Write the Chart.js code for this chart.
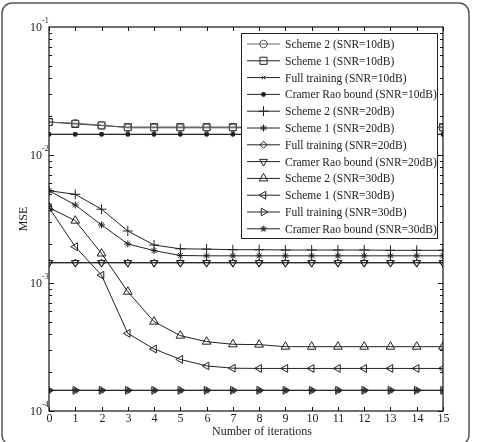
<!DOCTYPE html>
<html lang="en">
<head>
    <meta charset="UTF-8">
    <title>MSE vs iterations</title>
    <script src="https://cdn.jsdelivr.net/npm/chart.js"></script>
    <style>
        body {
            margin: 0;
            background-color: white;
        }
        #wrap {
            position: relative;
            width: 482px;
            height: 442px;
        }
    </style>
</head>
<body>
    <div id="wrap">
        <canvas id="mseChart" width="482" height="442"></canvas>
    </div>

    <script>
        // iterations on the x axis
        const iterations = [0, 1, 2, 3, 4, 5, 6, 7, 8, 9, 10, 11, 12, 13, 14, 15];

        // SNR = 10 dB
        const scheme2_10 = [0.0181, 0.0177, 0.0171, 0.0163, 0.0163, 0.0163, 0.0163, 0.0163, 0.0163, 0.0163, 0.0163, 0.0163, 0.0163, 0.0163, 0.0163, 0.0163];
        const scheme1_10 = [0.0181, 0.0175, 0.0170, 0.0165, 0.0165, 0.0165, 0.0165, 0.0165, 0.0165, 0.0165, 0.0165, 0.0165, 0.0165, 0.0165, 0.0165, 0.0165];
        const full_10    = [0.0145, 0.0145, 0.0145, 0.0145, 0.0145, 0.0145, 0.0145, 0.0145, 0.0145, 0.0145, 0.0145, 0.0145, 0.0145, 0.0145, 0.0145, 0.0145];
        const crb_10     = [0.0145, 0.0145, 0.0145, 0.0145, 0.0145, 0.0145, 0.0145, 0.0145, 0.0145, 0.0145, 0.0145, 0.0145, 0.0145, 0.0145, 0.0145, 0.0145];

        // SNR = 20 dB
        const scheme2_20 = [0.00526, 0.00493, 0.00377, 0.00255, 0.00198, 0.00185, 0.00184, 0.00182, 0.00182, 0.00181, 0.00181, 0.00181, 0.00181, 0.00180, 0.00180, 0.00180];
        const scheme1_20 = [0.00526, 0.00407, 0.00284, 0.00202, 0.00179, 0.00164, 0.00163, 0.00163, 0.00163, 0.00163, 0.00163, 0.00163, 0.00163, 0.00163, 0.00163, 0.00163];
        const full_20    = [0.00144, 0.00144, 0.00144, 0.00144, 0.00144, 0.00144, 0.00144, 0.00144, 0.00144, 0.00144, 0.00144, 0.00144, 0.00144, 0.00144, 0.00144, 0.00144];
        const crb_20     = [0.00144, 0.00144, 0.00144, 0.00144, 0.00144, 0.00144, 0.00144, 0.00144, 0.00144, 0.00144, 0.00144, 0.00144, 0.00144, 0.00144, 0.00144, 0.00144];

        // SNR = 30 dB
        const scheme2_30 = [0.00388, 0.00307, 0.00170, 0.000855, 0.000499, 0.000388, 0.000348, 0.000332, 0.000330, 0.000318, 0.000318, 0.000318, 0.000318, 0.000318, 0.000318, 0.000318];
        const scheme1_30 = [0.00388, 0.00192, 0.00115, 0.000404, 0.000305, 0.000253, 0.000225, 0.000216, 0.000215, 0.000215, 0.000215, 0.000215, 0.000215, 0.000215, 0.000215, 0.000215];
        const full_30    = [0.000145, 0.000145, 0.000145, 0.000145, 0.000145, 0.000145, 0.000145, 0.000145, 0.000145, 0.000145, 0.000145, 0.000145, 0.000145, 0.000145, 0.000145, 0.000145];
        const crb_30     = [0.000145, 0.000145, 0.000145, 0.000145, 0.000145, 0.000145, 0.000145, 0.000145, 0.000145, 0.000145, 0.000145, 0.000145, 0.000145, 0.000145, 0.000145, 0.000145];

        // axis ticks
        const xTicks = [0, 1, 2, 3, 4, 5, 6, 7, 8, 9, 10, 11, 12, 13, 14, 15];
        const yDecades = [-1, -2, -3, -4];

        const FONT = '"Liberation Serif", "DejaVu Serif", serif';
        const INK = '#222';

        // small filled pentagram for the 30dB Cramer Rao bound
        function makeStar(r) {
            const c = document.createElement('canvas');
            c.width = c.height = r * 2 + 2;
            const g = c.getContext('2d');
            g.fillStyle = '#333';
            g.beginPath();
            for (let i = 0; i < 10; i++) {
                const rr = i % 2 === 0 ? r : r * 0.45;
                const a = -Math.PI / 2 + i * Math.PI / 5;
                const px = r + 1 + rr * Math.cos(a);
                const py = r + 1 + rr * Math.sin(a);
                if (i === 0) g.moveTo(px, py); else g.lineTo(px, py);
            }
            g.closePath();
            g.fill();
            return c;
        }
        const starImg = makeStar(4);

        function series(label, values, style, extra) {
            return Object.assign({
                label: label,
                data: iterations.map((x, i) => ({ x: x, y: values[i] })),
                borderColor: INK,
                borderWidth: 1,
                pointStyle: style,
                pointRadius: 4,
                pointBorderWidth: 1,
                pointBorderColor: INK,
                pointBackgroundColor: 'rgba(0,0,0,0)',
                pointRotation: 0,
                fill: false,
                tension: 0
            }, extra || {});
        }

        const datasets = [
            series('Scheme 2 (SNR=10dB)', scheme2_10, 'circle', { borderColor: '#666', pointBorderColor: '#555', pointRadius: 3.8 }),
            series('Scheme 1 (SNR=10dB)', scheme1_10, 'rect', { pointRadius: 5 }),
            series('Full training (SNR=10dB)', full_10, 'crossRot', { pointRadius: 2.5 }),
            series('Cramer Rao bound (SNR=10dB)', crb_10, 'circle', { pointRadius: 2, pointBackgroundColor: INK }),
            series('Scheme 2 (SNR=20dB)', scheme2_20, 'cross', { pointRadius: 5 }),
            series('Scheme 1 (SNR=20dB)', scheme1_20, 'star', { pointRadius: 3.5 }),
            series('Full training (SNR=20dB)', full_20, 'rectRot', { pointRadius: 3.5 }),
            series('Cramer Rao bound (SNR=20dB)', crb_20, 'triangle', { pointRadius: 4.5, pointRotation: 180 }),
            series('Scheme 2 (SNR=30dB)', scheme2_30, 'triangle', { pointRadius: 5 }),
            series('Scheme 1 (SNR=30dB)', scheme1_30, 'triangle', { pointRadius: 4.5, pointRotation: 270 }),
            series('Full training (SNR=30dB)', full_30, 'triangle', { pointRadius: 4.5, pointRotation: 90 }),
            series('Cramer Rao bound (SNR=30dB)', crb_30, starImg, {})
        ];

        // axes box, inward ticks, tick labels, titles, legend, outer frame
        const figurePlugin = {
            id: 'figure',
            afterDraw(chart) {
                const ctx = chart.ctx;
                const a = chart.chartArea;
                const xs = chart.scales.x;
                const ys = chart.scales.y;
                ctx.save();

                // legend box (opaque, covers lines)
                const lx = 241, ly = 33, lw = 196, lh = 205, rowH = 16.8;
                ctx.fillStyle = 'white';
                ctx.fillRect(lx, ly, lw, lh);
                ctx.strokeStyle = INK;
                ctx.lineWidth = 1;
                ctx.strokeRect(lx + 0.5, ly + 0.5, lw, lh);
                ctx.font = '11.5px ' + FONT;
                ctx.textAlign = 'left';
                ctx.textBaseline = 'middle';
                datasets.forEach((ds, i) => {
                    const cy = ly + 11 + i * rowH;
                    ctx.strokeStyle = ds.borderColor;
                    ctx.lineWidth = 1;
                    ctx.beginPath();
                    ctx.moveTo(lx + 6, cy);
                    ctx.lineTo(lx + 39, cy);
                    ctx.stroke();
                    ctx.strokeStyle = ds.pointBorderColor;
                    ctx.fillStyle = ds.pointBackgroundColor;
                    Chart.helpers.drawPoint(ctx, {
                        pointStyle: ds.pointStyle,
                        rotation: ds.pointRotation,
                        radius: ds.pointRadius,
                        borderWidth: 1
                    }, lx + 22.5, cy);
                    ctx.fillStyle = INK;
                    ctx.fillText(ds.label, lx + 44, cy + 1);
                });

                // axes box
                ctx.strokeStyle = '#111';
                ctx.lineWidth = 1.2;
                ctx.strokeRect(a.left, a.top, a.right - a.left, a.bottom - a.top);

                // x ticks
                ctx.lineWidth = 1;
                ctx.font = '12px ' + FONT;
                ctx.fillStyle = INK;
                ctx.textAlign = 'center';
                ctx.textBaseline = 'top';
                xTicks.forEach(t => {
                    const px = Math.round(xs.getPixelForValue(t)) + 0.5;
                    ctx.beginPath();
                    ctx.moveTo(px, a.bottom);
                    ctx.lineTo(px, a.bottom - 4);
                    ctx.moveTo(px, a.top);
                    ctx.lineTo(px, a.top + 4);
                    ctx.stroke();
                    ctx.fillText(String(t), px, a.bottom + 2);
                });

                // y ticks: decades and minor log ticks
                yDecades.forEach(e => {
                    for (let m = 1; m <= 9; m++) {
                        const v = m * Math.pow(10, e - 1);
                        if (v < ys.min * 0.999 || v > ys.max * 1.001) continue;
                        const py = Math.round(ys.getPixelForValue(v)) + 0.5;
                        const len = m === 1 ? 5 : 3;
                        ctx.beginPath();
                        ctx.moveTo(a.left, py);
                        ctx.lineTo(a.left + len, py);
                        ctx.moveTo(a.right, py);
                        ctx.lineTo(a.right - len, py);
                        ctx.stroke();
                    }
                });
                ctx.textBaseline = 'middle';
                yDecades.forEach(e => {
                    const py = ys.getPixelForValue(Math.pow(10, e));
                    ctx.font = '12px ' + FONT;
                    ctx.textAlign = 'right';
                    ctx.fillText('10', a.left - 7, py + 1);
                    ctx.font = '8px ' + FONT;
                    ctx.textAlign = 'left';
                    ctx.fillText(String(e), a.left - 7, py - 6);
                });

                // axis titles
                ctx.font = '12px ' + FONT;
                ctx.textAlign = 'center';
                ctx.textBaseline = 'middle';
                ctx.fillText('Number of iterations', 262, a.bottom + 21);
                ctx.save();
                ctx.translate(24, (a.top + a.bottom) / 2);
                ctx.rotate(-Math.PI / 2);
                ctx.fillText('MSE', 0, 0);
                ctx.restore();

                // outer rounded frame
                ctx.strokeStyle = '#555';
                ctx.lineWidth = 1.5;
                ctx.beginPath();
                ctx.roundRect(2, 3, 467, 442, 10);
                ctx.stroke();

                ctx.restore();
            }
        };

        new Chart(document.getElementById('mseChart'), {
            type: 'line',
            data: { datasets: datasets },
            options: {
                responsive: false,
                animation: false,
                layout: {
                    padding: { left: 49, top: 27, right: 39, bottom: 31 }
                },
                plugins: {
                    legend: { display: false },
                    tooltip: { enabled: false }
                },
                scales: {
                    x: {
                        type: 'linear',
                        min: 0,
                        max: 15,
                        display: false
                    },
                    y: {
                        type: 'logarithmic',
                        min: 1e-4,
                        max: 1e-1,
                        display: false
                    }
                }
            },
            plugins: [figurePlugin]
        });
    </script>
</body>
</html>
